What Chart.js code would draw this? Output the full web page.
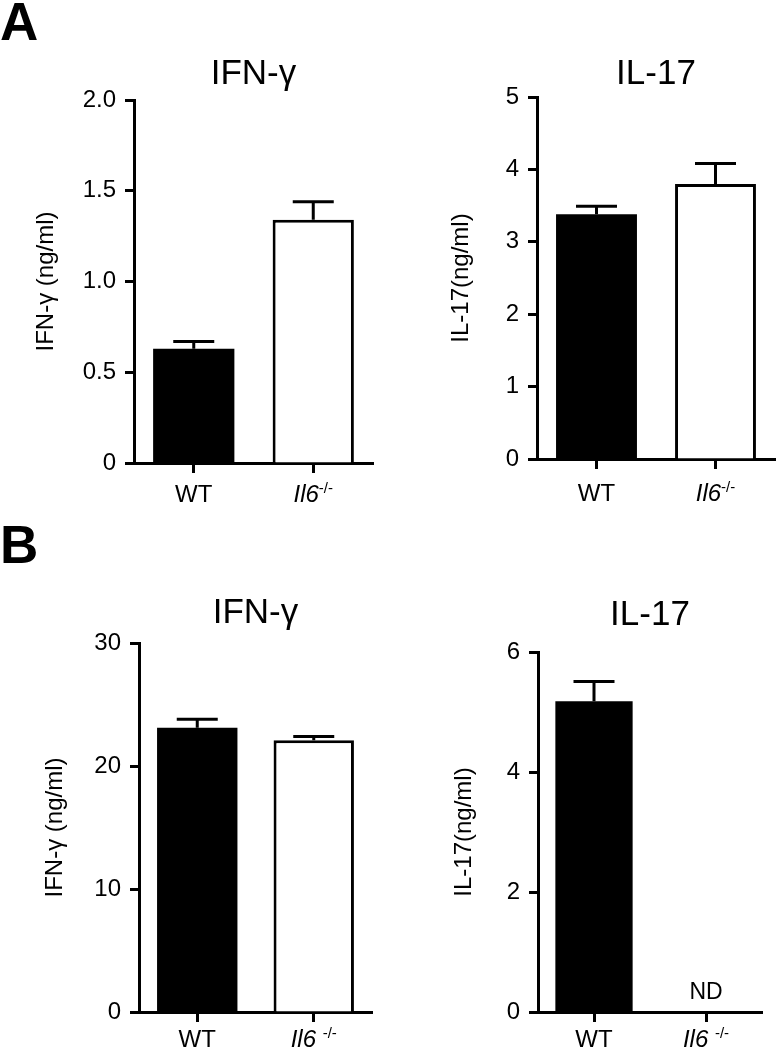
<!DOCTYPE html>
<html><head><meta charset="utf-8">
<script src="https://cdn.jsdelivr.net/npm/chart.js@4.4.1/dist/chart.umd.min.js"></script>
<style>
html,body{margin:0;padding:0;background:#fff;}
body{width:777px;height:1050px;position:relative;overflow:hidden;font-family:"Liberation Sans",Arial,sans-serif;}
.panel{position:absolute;}
.letter{position:absolute;left:0;font-weight:bold;font-size:53px;line-height:53px;color:#000;font-family:"Liberation Sans",Arial,sans-serif;}
</style></head><body>
<div class="letter" style="top:-5px">A</div>
<div class="letter" style="top:518px">B</div>
<canvas id="a1" class="panel" style="left:0px;top:0px" width="388" height="520"></canvas>
<canvas id="a2" class="panel" style="left:388px;top:0px" width="389" height="520"></canvas>
<canvas id="b1" class="panel" style="left:0px;top:520px" width="388" height="530"></canvas>
<canvas id="b2" class="panel" style="left:388px;top:520px" width="389" height="530"></canvas>
<script>
// ---- data ----
const categoriesA = ['WT', 'Il6-/-'];
const categoriesB = ['WT', 'Il6 -/-'];
const a1Values = [0.63, 1.34];
const a1Sem = [0.04, 0.10];
const a2Values = [3.38, 3.80];
const a2Sem = [0.11, 0.28];
const b1Values = [23.1, 22.1];
const b1Sem = [0.7, 0.3];
const b2Values = [5.18, null];
const b2Sem = [0.33, null];
const b2Notes = ['', 'ND'];
const a1Ticks = [0, 0.5, 1, 1.5, 2];
const a1TickLabels = ['0', '0.5', '1.0', '1.5', '2.0'];
const a2Ticks = [0, 1, 2, 3, 4, 5];
const a2TickLabels = ['0', '1', '2', '3', '4', '5'];
const b1Ticks = [0, 10, 20, 30];
const b1TickLabels = ['0', '10', '20', '30'];
const b2Ticks = [0, 2, 4, 6];
const b2TickLabels = ['0', '2', '4', '6'];
const titleIFN = 'IFN-γ';
const titleIL = 'IL-17';
const yTitleIFN = 'IFN-γ (ng/ml)';
const yTitleIL = 'IL-17(ng/ml)';
const barColors = ['#000000', '#ffffff'];
const barBorders = [0, 3];

const FONT = '"Liberation Sans", Arial, sans-serif';

const errorBarPlugin = {
  id: 'errorBars',
  afterDatasetsDraw(chart, args, opts) {
    const ctx = chart.ctx;
    const ys = chart.scales.y;
    const vals = chart.data.datasets[0].data;
    const sem = opts.sem || [];
    const meta = chart.getDatasetMeta(0);
    ctx.save();
    ctx.strokeStyle = '#000';
    ctx.lineWidth = opts.lineWidth;
    vals.forEach((v, i) => {
      if (v == null || sem[i] == null) return;
      const px = meta.data[i].x;
      const y0 = ys.getPixelForValue(v);
      const y1 = ys.getPixelForValue(v + sem[i]);
      ctx.beginPath();
      ctx.moveTo(px, y0); ctx.lineTo(px, y1);
      ctx.moveTo(px - opts.capHalf, y1); ctx.lineTo(px + opts.capHalf, y1);
      ctx.stroke();
    });
    const notes = opts.notes || [];
    ctx.fillStyle = '#000';
    ctx.textAlign = 'center';
    ctx.textBaseline = 'alphabetic';
    ctx.font = opts.noteSize + 'px ' + FONT;
    notes.forEach((n, i) => {
      if (!n) return;
      ctx.fillText(n, chart.scales.x.getPixelForValue(i), chart.chartArea.bottom - opts.noteOffset);
    });
    ctx.restore();
  }
};

const xLabelPlugin = {
  id: 'xLabels',
  afterDraw(chart, args, opts) {
    const ctx = chart.ctx;
    const xs = chart.scales.x;
    ctx.save();
    ctx.fillStyle = '#000';
    ctx.textAlign = 'left';
    ctx.textBaseline = 'alphabetic';
    chart.data.labels.forEach((lab, i) => {
      const cx = xs.getPixelForValue(i);
      const k = lab.indexOf('-/-');
      const base = k >= 0 ? lab.slice(0, k) : lab;
      const sup = k >= 0 ? lab.slice(k) : '';
      const fBase = (k >= 0 ? 'italic ' : '') + opts.size + 'px ' + FONT;
      const fSup = opts.supSize + 'px ' + FONT;
      ctx.font = fBase; const wb = ctx.measureText(base).width;
      ctx.font = fSup; const ws = sup ? ctx.measureText(sup).width : 0;
      const sx = cx - (wb + ws) / 2;
      const by = chart.chartArea.bottom + opts.offset;
      ctx.font = fBase; ctx.fillText(base, sx, by);
      if (sup) { ctx.font = fSup; ctx.fillText(sup, sx + wb, by - opts.supRaise); }
    });
    ctx.restore();
  }
};

function makeChart(id, c) {
  return new Chart(document.getElementById(id), {
    type: 'bar',
    data: {
      labels: c.labels,
      datasets: [{
        data: c.values,
        backgroundColor: barColors,
        borderColor: '#000000',
        borderWidth: barBorders,
        barPercentage: c.barPct,
        categoryPercentage: 1
      }]
    },
    options: {
      responsive: false,
      animation: false,
      devicePixelRatio: 1,
      layout: { padding: { left: 0, right: c.padRight, top: 0, bottom: 0 } },
      plugins: {
        legend: { display: false },
        tooltip: { enabled: false },
        title: {
          display: true, text: c.title, fullSize: false, color: '#000',
          font: { family: FONT, size: 35, weight: 'normal', lineHeight: 1.2 },
          padding: { top: c.titleTop, bottom: c.titleBottom }
        },
        errorBars: { sem: c.sem, capHalf: 20.5, lineWidth: 3, notes: c.notes, noteOffset: 13, noteSize: 23 },
        xLabels: { size: 24, supSize: 15, supRaise: 9, offset: c.labelOffset }
      },
      scales: {
        x: {
          grid: { display: true, offset: false, drawOnChartArea: false, drawTicks: true, tickLength: 10, tickWidth: 3, tickColor: '#000' },
          border: { display: true, color: '#000', width: 3 },
          ticks: { display: false },
          afterFit(s) { s.height = c.xHeight; }
        },
        y: {
          min: 0,
          max: c.ticks[c.ticks.length - 1],
          afterBuildTicks(s) { s.ticks = c.ticks.map(v => ({ value: v })); },
          ticks: { callback: (v, i) => c.tickLabels[i], font: { family: FONT, size: 24 }, color: '#000', padding: 9 },
          grid: { display: true, drawOnChartArea: false, drawTicks: true, tickLength: 9, tickWidth: 3, tickColor: '#000' },
          border: { display: true, color: '#000', width: 3 },
          title: { display: true, text: c.yTitle, color: '#000', font: { family: FONT, size: 24 }, padding: { top: c.yTitlePad, bottom: 0 } },
          afterFit(s) { s.width = c.yWidth; }
        }
      }
    },
    plugins: [errorBarPlugin, xLabelPlugin]
  });
}

makeChart('a1', { labels: categoriesA, values: a1Values, sem: a1Sem, ticks: a1Ticks, tickLabels: a1TickLabels,
  title: titleIFN, yTitle: yTitleIFN, padRight: 15, titleTop: 53, titleBottom: 5, yWidth: 134, xHeight: 57,
  yTitlePad: 32, barPct: 0.68, labelOffset: 39 });
makeChart('a2', { labels: categoriesA, values: a2Values, sem: a2Sem, ticks: a2Ticks, tickLabels: a2TickLabels,
  title: titleIL, yTitle: yTitleIL, padRight: 2, titleTop: 53, titleBottom: 2, yWidth: 149, xHeight: 61,
  yTitlePad: 59, barPct: 0.68, labelOffset: 42 });
makeChart('b1', { labels: categoriesB, values: b1Values, sem: b1Sem, ticks: b1Ticks, tickLabels: b1TickLabels,
  title: titleIFN, yTitle: yTitleIFN, padRight: 16, titleTop: 72, titleBottom: 9, yWidth: 139, xHeight: 38,
  yTitlePad: 41, barPct: 0.69, labelOffset: 35 });
makeChart('b2', { labels: categoriesB, values: b2Values, sem: b2Sem, notes: b2Notes, ticks: b2Ticks, tickLabels: b2TickLabels,
  title: titleIL, yTitle: yTitleIL, padRight: 15, titleTop: 74, titleBottom: 16, yWidth: 150, xHeight: 38,
  yTitlePad: 62, barPct: 0.69, labelOffset: 35 });
</script>
</body></html>
